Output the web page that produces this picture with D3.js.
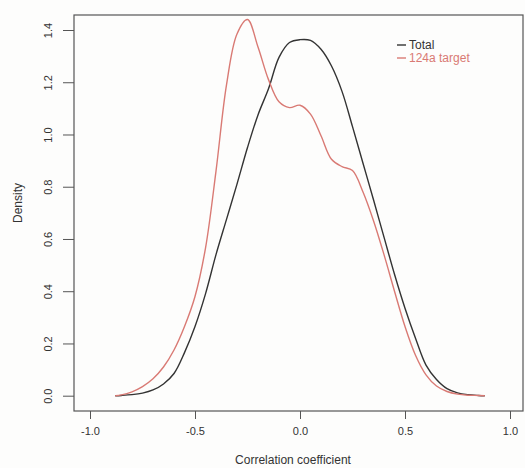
<!DOCTYPE html>
<html>
<head>
<meta charset="utf-8">
<script src="https://cdn.jsdelivr.net/npm/d3@7"></script>
<style>
  body { margin: 0; background: #fdfdfc; }
  svg { display: block; font-family: "Liberation Sans", Arial, sans-serif; }
</style>
</head>
<body>
<div id="chart"></div>
<script>
// density curves
var xs = [-0.88, -0.85, -0.80, -0.75, -0.70, -0.65, -0.60, -0.55, -0.50, -0.45,
  -0.40, -0.35, -0.30, -0.25, -0.20, -0.15, -0.10, -0.05, 0.00, 0.05,
  0.10, 0.15, 0.20, 0.25, 0.30, 0.35, 0.40, 0.45, 0.50, 0.55,
  0.60, 0.65, 0.70, 0.75, 0.80, 0.85, 0.88];
var total = [0, 0.001, 0.004, 0.01, 0.022, 0.045, 0.085, 0.165, 0.265, 0.39,
  0.54, 0.675, 0.81, 0.95, 1.075, 1.175, 1.295, 1.352, 1.363, 1.36,
  1.326, 1.262, 1.165, 1.03, 0.89, 0.75, 0.607, 0.465, 0.335, 0.22,
  0.117, 0.062, 0.027, 0.011, 0.004, 0.001, 0];
var target = [0, 0.003, 0.015, 0.035, 0.065, 0.11, 0.175, 0.265, 0.38, 0.565,
  0.86, 1.19, 1.385, 1.44, 1.335, 1.21, 1.125, 1.103, 1.112, 1.078,
  0.995, 0.905, 0.877, 0.862, 0.78, 0.67, 0.54, 0.40, 0.265, 0.155,
  0.08, 0.037, 0.016, 0.006, 0.002, 0.001, 0];
var xTicks = [-1.0, -0.5, 0.0, 0.5, 1.0];
var yTicks = [0.0, 0.2, 0.4, 0.6, 0.8, 1.0, 1.2, 1.4];
var seriesNames = ["Total", "124a target"];
var seriesColors = ["#333333", "#d97a74"];

const width = 525;
const height = 468;
var box = { left: 74, top: 15, right: 523, bottom: 411 };

var x = d3.scaleLinear().domain([-1, 1]).range([90, 510]);
var y = d3.scaleLinear().domain([0, 1.4]).range([395.7, 30]);

var svg = d3.select("#chart")
  .append("svg")
  .attr("width", width)
  .attr("height", height);

// plot frame
svg.append("rect")
  .attr("x", box.left)
  .attr("y", box.top)
  .attr("width", box.right - box.left)
  .attr("height", box.bottom - box.top)
  .attr("fill", "none")
  .attr("stroke", "#555")
  .attr("stroke-width", 1.2);

// x axis
var xAxis = svg.append("g")
  .attr("transform", "translate(0," + box.bottom + ")")
  .call(d3.axisBottom(x).tickValues(xTicks).tickSize(8).tickFormat(d3.format(".1f")));
xAxis.select(".domain").remove();
xAxis.selectAll("line").attr("stroke", "#555");
xAxis.selectAll("text")
  .attr("font-size", 11)
  .attr("fill", "#333")
  .attr("dy", "1.15em")
  .text(function (d) { return d3.format(".1f")(d).replace("−", "-"); });

// y axis, labels rotated like R does
var yAxis = svg.append("g")
  .attr("transform", "translate(" + box.left + ",0)")
  .call(d3.axisLeft(y).tickValues(yTicks).tickSize(11).tickFormat(d3.format(".1f")));
yAxis.select(".domain").remove();
yAxis.selectAll("line").attr("stroke", "#555");
yAxis.selectAll("text")
  .attr("font-size", 11)
  .attr("fill", "#333")
  .attr("x", 0)
  .attr("dy", 0)
  .attr("text-anchor", "middle")
  .attr("transform", "translate(-22,0) rotate(-90)");

// axis titles
svg.append("text")
  .attr("x", 293)
  .attr("y", 464)
  .attr("text-anchor", "middle")
  .attr("font-size", 12)
  .attr("fill", "#333")
  .text("Correlation coefficient");

svg.append("text")
  .attr("transform", "translate(22,203) rotate(-90)")
  .attr("text-anchor", "middle")
  .attr("font-size", 12)
  .attr("fill", "#333")
  .text("Density");

// curves
var line = d3.line()
  .x(function (d) { return x(d[0]); })
  .y(function (d) { return y(d[1]); })
  .curve(d3.curveCatmullRom.alpha(0.5));

[total, target].forEach(function (vals, i) {
  svg.append("path")
    .datum(xs.map(function (v, j) { return [v, vals[j]]; }))
    .attr("fill", "none")
    .attr("stroke", seriesColors[i])
    .attr("stroke-width", 1.4)
    .attr("d", line);
});

// legend
var legend = svg.append("g").attr("transform", "translate(397,45)");
seriesNames.forEach(function (name, i) {
  var g = legend.append("g").attr("transform", "translate(0," + (i * 13) + ")");
  g.append("line")
    .attr("x1", 0).attr("x2", 9)
    .attr("stroke", seriesColors[i])
    .attr("stroke-width", 1.4);
  g.append("text")
    .attr("x", 12)
    .attr("dy", "0.35em")
    .attr("font-size", 12)
    .attr("fill", seriesColors[i])
    .text(name);
});
</script>
</body>
</html>
